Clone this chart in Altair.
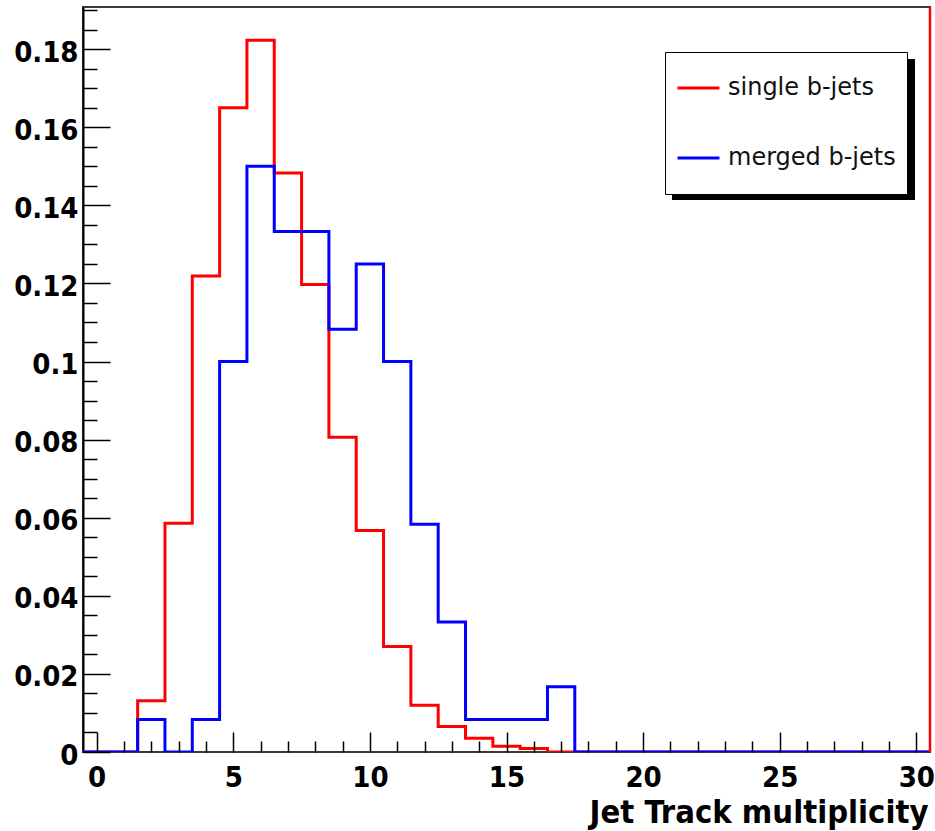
import altair as alt
import pandas as pd

# ---- data (bin centres 0..30, width 1) ----
bins = list(range(31))
single_bjets = [0, 0, 0.0131, 0.0586, 0.1219, 0.1650, 0.1823, 0.1483, 0.1197, 0.0806,
                0.0567, 0.0270, 0.0120, 0.0065, 0.0035, 0.0015, 0.0009, 0, 0, 0,
                0, 0, 0, 0, 0, 0, 0, 0, 0, 0, 0]
merged_bjets = [0, 0, 0.0083, 0, 0.0083, 0.1000, 0.1500, 0.1333, 0.1333, 0.1083,
                0.1250, 0.1000, 0.0583, 0.0333, 0.0083, 0.0083, 0.0083, 0.0167, 0, 0,
                0, 0, 0, 0, 0, 0, 0, 0, 0, 0, 0]
series_names = ["single b-jets", "merged b-jets"]
series_colors = ["#ff0000", "#0000ff"]

x_major = [0, 5, 10, 15, 20, 25, 30]
x_ticks = list(range(0, 31))
y_major = [0, 0.02, 0.04, 0.06, 0.08, 0.1, 0.12, 0.14, 0.16, 0.18]
y_ticks = [0, 0.005, 0.01, 0.015, 0.02, 0.025, 0.03, 0.035, 0.04, 0.045, 0.05, 0.055,
           0.06, 0.065, 0.07, 0.075, 0.08, 0.085, 0.09, 0.095, 0.1, 0.105, 0.11, 0.115,
           0.12, 0.125, 0.13, 0.135, 0.14, 0.145, 0.15, 0.155, 0.16, 0.165, 0.17, 0.175,
           0.18, 0.185, 0.19]
x_domain = [-0.5, 30.5]
y_domain = [0, 0.1908]
x_title = "Jet Track multiplicity"

# step table: lower bin edges + closing right edge
rows = []
for name, vals in zip(series_names, [single_bjets, merged_bjets]):
    for b, v in zip(bins, vals):
        rows.append({"series": name, "edge": b - 0.5, "value": v})
    rows.append({"series": name, "edge": bins[-1] + 0.5, "value": vals[-1]})
df = pd.DataFrame(rows)

W, H = 847, 745
BOLD = "DejaVu Sans Condensed, Liberation Sans, sans-serif"

xs = alt.Scale(domain=x_domain, nice=False, zero=False)
ys = alt.Scale(domain=y_domain, nice=False, zero=False)
color = alt.Color("series:N",
                  scale=alt.Scale(domain=series_names, range=series_colors),
                  legend=alt.Legend(title=None, orient="none", legendX=582, legendY=45,
                                    fillColor="white", strokeColor="black", padding=11,
                                    symbolType="stroke", symbolSize=1764,
                                    symbolStrokeWidth=3, labelFont="DejaVu Sans",
                                    labelFontSize=24, labelColor="#111111",
                                    labelOffset=7, rowPadding=20, clipHeight=50,
                                    labelLimit=400))

x_label_axis = alt.Axis(values=x_major, format="d", ticks=False, tickSize=0, domain=False,
                        grid=False, labelFont=BOLD, labelFontWeight="bold",
                        labelFontSize=29, labelColor="black", labelPadding=11,
                        title=x_title, titleFont=BOLD, titleFontWeight="bold",
                        titleFontSize=32.5, titleColor="black", titleAnchor="end",
                        titleAlign="right", titleX=W - 2, titleY=70,
                        titleBaseline="alphabetic")
y_label_axis = alt.Axis(values=y_major, format="~g", ticks=False, tickSize=0,
                        domain=True, domainColor="black", domainWidth=2, grid=False,
                        labelFont=BOLD, labelFontWeight="bold", labelFontSize=29,
                        labelColor="black", labelPadding=5, labelOffset=3, title=None)

x_tick_axis = alt.Axis(orient="top", offset=-H, values=x_ticks, labels=False, domain=False,
                       grid=False, title=None, tickColor="black", tickWidth=1.5,
                       tickSize={"condition": {"test": "datum.value % 5 == 0", "value": 20},
                                 "value": 11}, zindex=2)
y_tick_axis = alt.Axis(orient="right", offset=-W, values=y_ticks, labels=False,
                       domain=False, grid=False, title=None, tickColor="black",
                       tickWidth=1.5,
                       tickSize={"condition": {"test": "abs(datum.value*50 - round(datum.value*50)) < 0.001",
                                               "value": 27}, "value": 14}, zindex=2)

base = alt.Chart(df)

red = base.transform_filter(alt.datum.series == series_names[0]).mark_line(
    interpolate="step-after", strokeWidth=3, clip=True).encode(
    x=alt.X("edge:Q", scale=xs, axis=x_label_axis),
    y=alt.Y("value:Q", scale=ys, axis=y_label_axis),
    color=color)

blue = base.transform_filter(alt.datum.series == series_names[1]).mark_line(
    interpolate="step-after", strokeWidth=3, clip=True).encode(
    x=alt.X("edge:Q", scale=xs, axis=None),
    y=alt.Y("value:Q", scale=ys, axis=None),
    color=color)

# ROOT draws the first histogram's outline up the right frame edge
edge_rule = base.transform_filter(
    (alt.datum.series == series_names[0]) & (alt.datum.edge == x_domain[1])
).mark_rule(color="#ff0000", strokeWidth=2.5).encode(
    x=alt.X("edge:Q", scale=xs, axis=x_tick_axis),
    y=alt.Y("value:Q", scale=ys, axis=y_tick_axis),
    y2=alt.value(0))

shadow = alt.Chart(pd.DataFrame({"k": [0]})).mark_rect(color="black").encode(
    x=alt.value(589), x2=alt.value(832), y=alt.value(52), y2=alt.value(193))

chart = alt.layer(shadow, red, blue, edge_rule).resolve_axis(
    x="independent", y="independent").properties(
    width=W, height=H,
    autosize=alt.AutoSizeParams(type="none"),
    padding={"left": 83, "top": 7, "right": 5, "bottom": 79},
    background="white",
).configure_view(stroke="#3a3a3a", strokeWidth=2)

chart.save("out.html", embed_options={"renderer": "svg", "actions": False})
